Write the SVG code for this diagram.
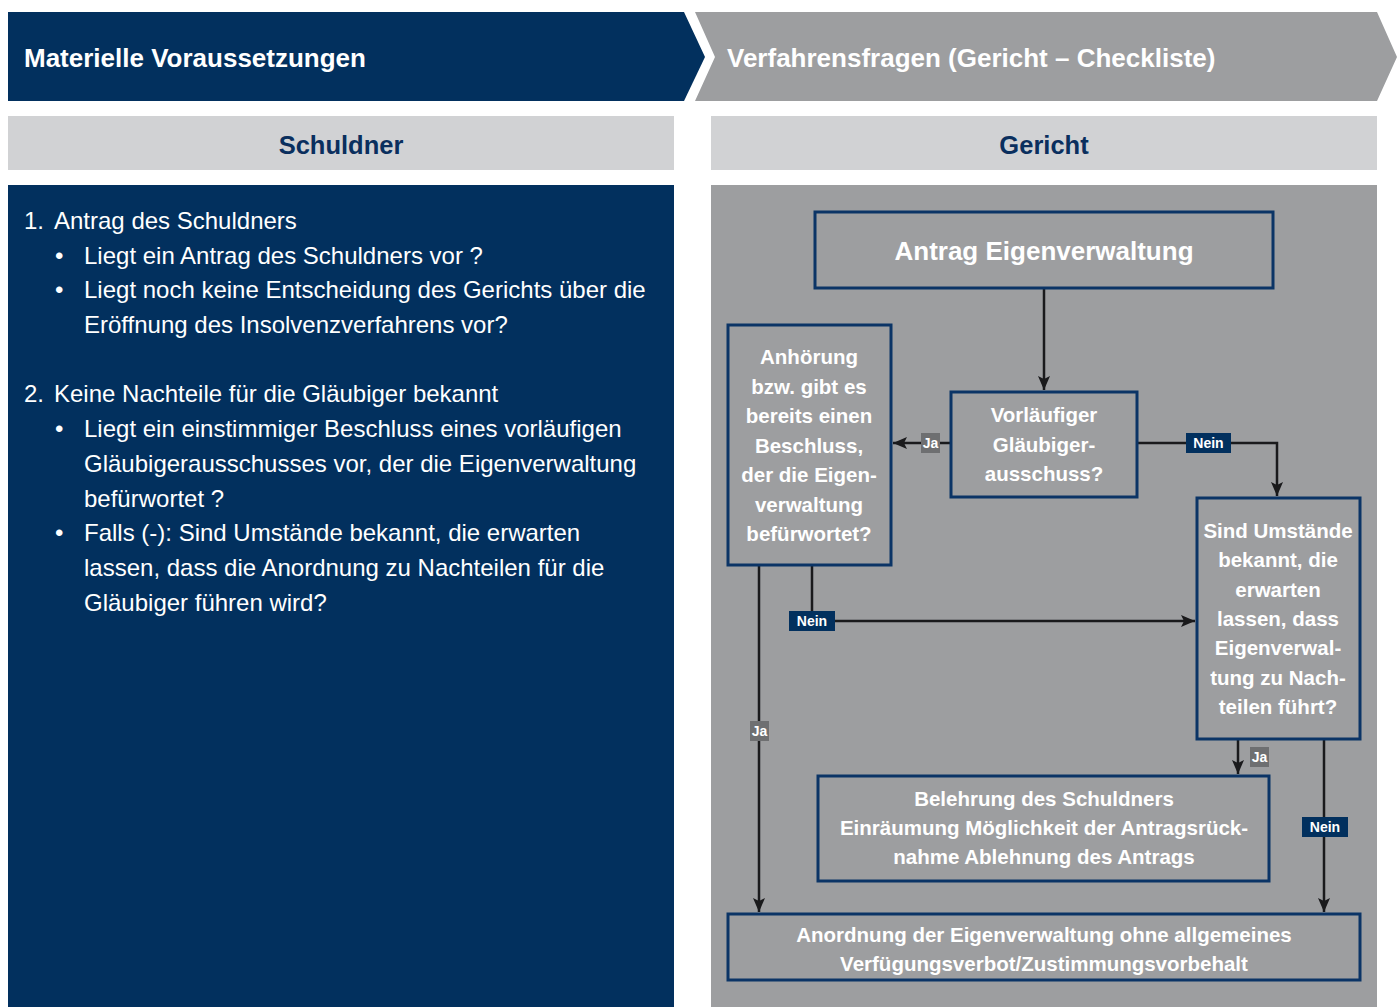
<svg xmlns="http://www.w3.org/2000/svg" width="1397" height="1007" viewBox="0 0 1397 1007">
<defs>
<style>
.hdr{font-family:"Liberation Sans",Arial,sans-serif;font-weight:bold;font-size:26px;fill:#ffffff}
.sec{font-family:"Liberation Sans",Arial,sans-serif;font-weight:bold;font-size:25.5px;fill:#0a2f5e;text-anchor:middle}
.body{font-family:"Liberation Sans",Arial,sans-serif;font-size:24px;fill:#ffffff}
.box{fill:#9d9ea0;stroke:#0b3466;stroke-width:3}
.bt{font-family:"Liberation Sans",Arial,sans-serif;font-weight:bold;font-size:20.5px;fill:#ffffff;text-anchor:middle}
.conn{fill:none;stroke:#1a1a1c;stroke-width:2.5}
.lbl{font-family:"Liberation Sans",Arial,sans-serif;font-weight:bold;font-size:14px;fill:#ffffff;text-anchor:middle}
.ja{fill:#6e6f71}
.nein{fill:#02305e}
</style>
<marker id="ah" viewBox="0 0 14 12" refX="14" refY="6" markerWidth="14" markerHeight="12" markerUnits="userSpaceOnUse" orient="auto">
<path d="M0,0 L14,6 L0,12 L3,6 Z" fill="#1a1a1c"/>
</marker>
</defs>
<rect width="1397" height="1007" fill="#ffffff"/>
<g id="header-left">
<polygon points="8,12 684,12 705,57 684,101 8,101" fill="#02305e"/>
<text class="hdr" x="24" y="67">Materielle Voraussetzungen</text>
</g>
<g id="header-right">
<polygon points="695,12 1377,12 1397,57 1377,101 695,101 715,57" fill="#9d9ea0"/>
<text class="hdr" x="727" y="67">Verfahrensfragen (Gericht – Checkliste)</text>
</g>
<g id="section-schuldner">
<rect x="8" y="116" width="666" height="54" fill="#d1d2d4"/>
<text class="sec" x="341" y="154">Schuldner</text>
</g>
<g id="section-gericht">
<rect x="711" y="116" width="666" height="54" fill="#d1d2d4"/>
<text class="sec" x="1044" y="154">Gericht</text>
</g>
<g id="panel-left">
<rect x="8" y="185" width="666" height="822" fill="#02305e"/>
<text class="body" x="24" y="229">1.</text>
<text class="body" x="54" y="229">Antrag des Schuldners</text>
<text class="body" x="55" y="264">•</text>
<text class="body" x="84" y="264">Liegt ein Antrag des Schuldners vor ?</text>
<text class="body" x="55" y="298">•</text>
<text class="body" x="84" y="298">Liegt noch keine Entscheidung des Gerichts über die</text>
<text class="body" x="84" y="333">Eröffnung des Insolvenzverfahrens vor?</text>
<text class="body" x="24" y="402">2.</text>
<text class="body" x="54" y="402">Keine Nachteile für die Gläubiger bekannt</text>
<text class="body" x="55" y="437">•</text>
<text class="body" x="84" y="437">Liegt ein einstimmiger Beschluss eines vorläufigen</text>
<text class="body" x="84" y="472">Gläubigerausschusses vor, der die Eigenverwaltung</text>
<text class="body" x="84" y="507">befürwortet ?</text>
<text class="body" x="55" y="541">•</text>
<text class="body" x="84" y="541">Falls (-): Sind Umstände bekannt, die erwarten</text>
<text class="body" x="84" y="576">lassen, dass die Anordnung zu Nachteilen für die</text>
<text class="body" x="84" y="611">Gläubiger führen wird?</text>
</g>
<g id="panel-right">
<rect x="711" y="185" width="666" height="822" fill="#9d9ea0"/>
</g>
<g id="connectors">
<line class="conn" x1="1044" y1="289" x2="1044" y2="390" marker-end="url(#ah)"/>
<line class="conn" x1="950" y1="443" x2="893" y2="443" marker-end="url(#ah)"/>
<polyline class="conn" points="1138,443 1277,443 1277,496" marker-end="url(#ah)"/>
<polyline class="conn" points="812,566 812,621 1195,621" marker-end="url(#ah)"/>
<line class="conn" x1="759" y1="566" x2="759" y2="912" marker-end="url(#ah)"/>
<line class="conn" x1="1238" y1="740" x2="1238" y2="774" marker-end="url(#ah)"/>
<line class="conn" x1="1324" y1="740" x2="1324" y2="912" marker-end="url(#ah)"/>
<rect class="ja" x="921" y="433" width="19" height="20"/>
<text class="lbl" x="930.5" y="448">Ja</text>
<rect class="nein" x="1186" y="433" width="45" height="20"/>
<text class="lbl" x="1208.5" y="448">Nein</text>
<rect class="nein" x="789" y="611" width="46" height="20"/>
<text class="lbl" x="812" y="626">Nein</text>
<rect class="ja" x="750" y="721" width="19" height="20"/>
<text class="lbl" x="759.5" y="736">Ja</text>
<rect class="ja" x="1250" y="747" width="19" height="20"/>
<text class="lbl" x="1259.5" y="762">Ja</text>
<rect class="nein" x="1302" y="817" width="46" height="20"/>
<text class="lbl" x="1325" y="832">Nein</text>
</g>
<g id="node-antrag">
<rect class="box" x="815" y="212" width="458" height="76"/>
<text class="bt" x="1044" y="260" style="font-size:26px">Antrag Eigenverwaltung</text>
</g>
<g id="node-anhoerung">
<rect class="box" x="728" y="325" width="163" height="240"/>
<text class="bt" x="809" y="364">Anhörung</text>
<text class="bt" x="809" y="394">bzw. gibt es</text>
<text class="bt" x="809" y="423">bereits einen</text>
<text class="bt" x="809" y="453">Beschluss,</text>
<text class="bt" x="809" y="482">der die Eigen-</text>
<text class="bt" x="809" y="512">verwaltung</text>
<text class="bt" x="809" y="541">befürwortet?</text>
</g>
<g id="node-vorlaeufiger">
<rect class="box" x="951" y="392" width="186" height="105"/>
<text class="bt" x="1044" y="422">Vorläufiger</text>
<text class="bt" x="1044" y="452">Gläubiger-</text>
<text class="bt" x="1044" y="481">ausschuss?</text>
</g>
<g id="node-umstaende">
<rect class="box" x="1197" y="498" width="163" height="241"/>
<text class="bt" x="1278" y="538">Sind Umstände</text>
<text class="bt" x="1278" y="567">bekannt, die</text>
<text class="bt" x="1278" y="597">erwarten</text>
<text class="bt" x="1278" y="626">lassen, dass</text>
<text class="bt" x="1278" y="655">Eigenverwal-</text>
<text class="bt" x="1278" y="685">tung zu Nach-</text>
<text class="bt" x="1278" y="714">teilen führt?</text>
</g>
<g id="node-belehrung">
<rect class="box" x="818" y="776" width="451" height="105"/>
<text class="bt" x="1044" y="806">Belehrung des Schuldners</text>
<text class="bt" x="1044" y="835">Einräumung Möglichkeit der Antragsrück-</text>
<text class="bt" x="1044" y="864">nahme Ablehnung des Antrags</text>
</g>
<g id="node-anordnung">
<rect class="box" x="728" y="914" width="632" height="66"/>
<text class="bt" x="1044" y="942">Anordnung der Eigenverwaltung ohne allgemeines</text>
<text class="bt" x="1044" y="971">Verfügungsverbot/Zustimmungsvorbehalt</text>
</g>
</svg>
